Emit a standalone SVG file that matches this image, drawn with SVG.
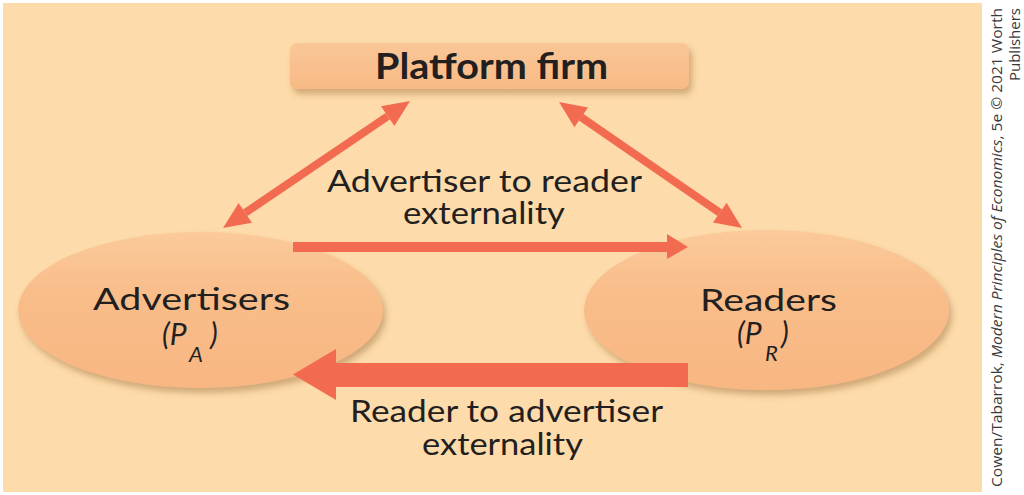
<svg xmlns="http://www.w3.org/2000/svg" width="1024" height="495" viewBox="0 0 1024 495">
  <defs>
    <style>
      .lbl { font-family: Lato, "Open Sans", "Liberation Sans", sans-serif; fill: #231F20; }
      .bold { font-weight: 700; }
      .it { font-style: italic; }
      .credit { font-family: "Open Sans", "Liberation Sans", sans-serif; font-size: 15px; fill: #3a3a3a; }
      .conn { stroke: #F26B50; fill: none; stroke-width: 8; }
      .head { fill: #F26B50; }
    </style>
    <linearGradient id="ellGrad" x1="0" y1="0" x2="0" y2="1">
      <stop offset="0" stop-color="#FBCA9B"/>
      <stop offset="0.35" stop-color="#F9BE8B"/>
      <stop offset="1" stop-color="#F8B682"/>
    </linearGradient>
    <linearGradient id="boxGrad" x1="0" y1="0" x2="0" y2="1">
      <stop offset="0" stop-color="#FAC697"/>
      <stop offset="1" stop-color="#F8BA85"/>
    </linearGradient>
    <filter id="shadow" x="-10%" y="-20%" width="125%" height="145%">
      <feDropShadow dx="3" dy="5" stdDeviation="3" flood-color="#9A6B3E" flood-opacity="0.45"/>
    </filter>
  </defs>

  <rect x="0" y="0" width="1024" height="495" fill="#FFFFFF"/>
  <rect id="panel" x="3" y="3" width="979" height="489" fill="#FDDBAA"/>

  <g id="node-platform">
    <rect x="290" y="43" width="399" height="46" rx="7" ry="7" fill="url(#boxGrad)" filter="url(#shadow)"/>
    <text class="lbl bold" x="491.5" y="79" font-size="36" text-anchor="middle" textLength="233" lengthAdjust="spacingAndGlyphs">Platform firm</text>
  </g>

  <g id="node-advertisers">
    <ellipse cx="200.5" cy="310" rx="182.5" ry="78" fill="url(#ellGrad)" filter="url(#shadow)"/>
    <text class="lbl" x="191.5" y="310" font-size="31" text-anchor="middle" textLength="197" lengthAdjust="spacingAndGlyphs">Advertisers</text>
    <text class="lbl it" x="162" y="345" font-size="30">(P<tspan x="189" y="362" font-size="22">A</tspan><tspan x="210" y="345" font-size="30">)</tspan></text>
  </g>

  <g id="node-readers">
    <ellipse cx="766.5" cy="310" rx="182.5" ry="80" fill="url(#ellGrad)" filter="url(#shadow)"/>
    <text class="lbl" x="768.5" y="311" font-size="31" text-anchor="middle" textLength="137" lengthAdjust="spacingAndGlyphs">Readers</text>
    <text class="lbl it" x="737" y="344" font-size="30">(P<tspan x="765" y="361" font-size="22">R</tspan><tspan x="781" y="344" font-size="30">)</tspan></text>
  </g>

  <g id="connectors">
    <line class="conn" x1="245.3" y1="212.8" x2="387.7" y2="116.2"/>
    <polygon class="head" points="410,101 394.4,126.1 381.0,106.3"/>
    <polygon class="head" points="223,228 252.0,222.7 238.6,202.9"/>
    <line class="conn" x1="581.2" y1="117.3" x2="719.8" y2="212.7"/>
    <polygon class="head" points="559,102 574.4,127.2 588.0,107.4"/>
    <polygon class="head" points="742,228 713.0,222.6 726.6,202.8"/>
    <rect class="head" x="293" y="242" width="376" height="10"/>
    <polygon class="head" points="667,234 688,247 667,259"/>
    <rect class="head" x="334" y="363" width="354" height="24"/>
    <polygon class="head" points="293,374.5 336,349 336,400"/>
  </g>

  <g id="edge-labels">
    <text class="lbl" x="484.5" y="192" font-size="30" text-anchor="middle" textLength="315" lengthAdjust="spacingAndGlyphs">Advertiser to reader</text>
    <text class="lbl" x="484" y="224" font-size="30" text-anchor="middle" textLength="162" lengthAdjust="spacingAndGlyphs">externality</text>
    <text class="lbl" x="506.5" y="422" font-size="30" text-anchor="middle" textLength="313" lengthAdjust="spacingAndGlyphs">Reader to advertiser</text>
    <text class="lbl" x="502.5" y="455" font-size="30" text-anchor="middle" textLength="161" lengthAdjust="spacingAndGlyphs">externality</text>
  </g>

  <g id="credit">
    <text class="credit" transform="translate(1002,8) rotate(-90)" x="0" y="0" text-anchor="end" textLength="479" lengthAdjust="spacingAndGlyphs">Cowen/Tabarrok, <tspan font-style="italic">Modern Principles of Economics</tspan>, 5e © 2021 Worth</text>
    <text class="credit" transform="translate(1020,8) rotate(-90)" x="0" y="0" text-anchor="end">Publishers</text>
  </g>
</svg>
